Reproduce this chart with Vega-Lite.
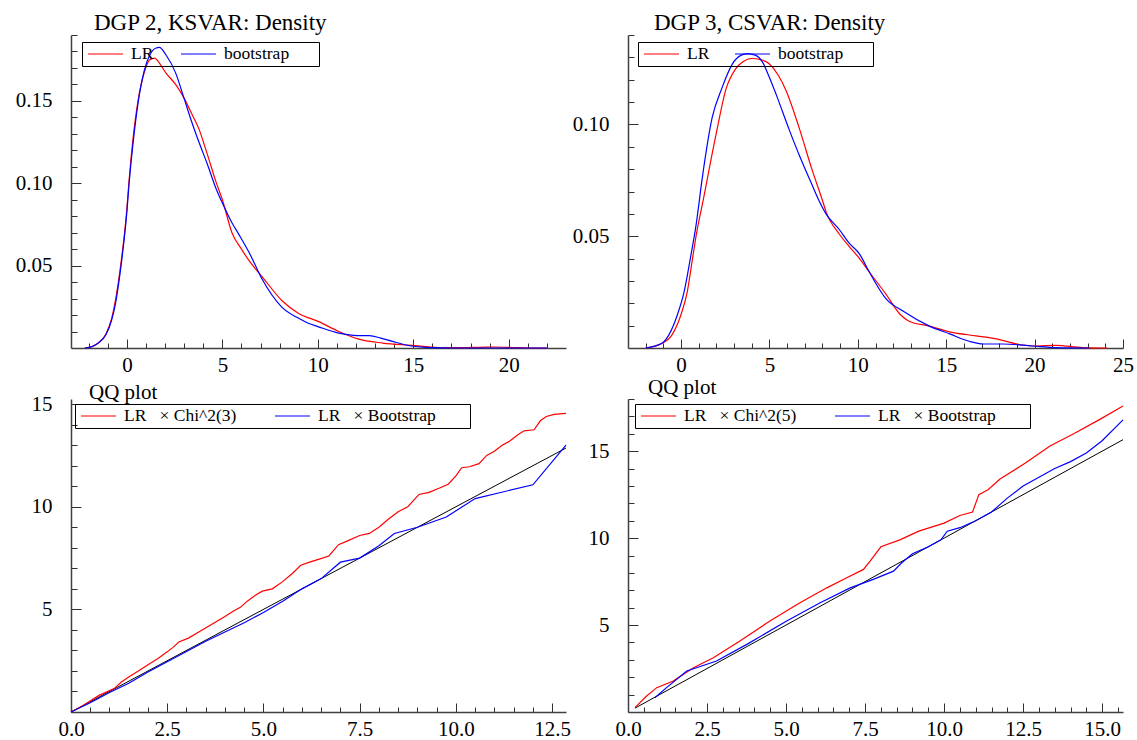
{
"$schema": "https://vega.github.io/schema/vega-lite/v6.json",
"padding": {"left": 15, "top": 12, "right": 5, "bottom": 2},
"bounds": "flush",
"columns": 2,
"spacing": {"row": 51, "column": 62},
"resolve": {"scale": {"x": "independent", "y": "independent", "color": "independent"}, "legend": {"color": "independent"}},
"config": {
  "view": {"stroke": null},
  "font": "Liberation Serif",
  "axis": {"grid": false, "domainColor": "#404040", "domainWidth": 1.5, "tickColor": "#303030", "tickWidth": 1, "labelFont": "Liberation Serif", "labelFontSize": 21, "labelColor": "black", "labelOverlap": false, "labelFlush": false, "title": null},
  "axisX": {"labelPadding": 15, "labelFont": "Liberation Serif"},
  "axisY": {"labelPadding": 29, "labelFont": "Liberation Serif"},
  "title": {"font": "Liberation Serif", "fontSize": 21, "fontWeight": "normal", "color": "black", "anchor": "start", "frame": "group", "offset": 4},
  "legend": {"orient": "none", "direction": "horizontal", "symbolType": "stroke", "symbolSize": 1225, "symbolStrokeWidth": 1.2, "clipHeight": 18, "labelFont": "Liberation Serif", "labelFontSize": 17.5, "labelColor": "black", "strokeColor": "black", "padding": 3, "symbolOffset": 2, "labelOffset": 7, "title": null}
},
"concat": [
{
  "width": 495, "height": 313,
  "title": {"text": "DGP 2, KSVAR: Density", "dx": 23, "dy": 15, "fontSize": 23},
  "data": {"values": [
    {"series":"LR","x":-2.2,"y":0},{"series":"LR","x":-1.8,"y":0.001},{"series":"LR","x":-1.5,"y":0.003},{"series":"LR","x":-1.1,"y":0.0085},{"series":"LR","x":-0.8,"y":0.018},{"series":"LR","x":-0.6,"y":0.029},{"series":"LR","x":-0.33,"y":0.05},{"series":"LR","x":0,"y":0.085},{"series":"LR","x":0.1,"y":0.1},{"series":"LR","x":0.3,"y":0.125},{"series":"LR","x":0.58,"y":0.15},{"series":"LR","x":0.9,"y":0.167},{"series":"LR","x":1.2,"y":0.175},{"series":"LR","x":1.45,"y":0.176},{"series":"LR","x":1.7,"y":0.173},{"series":"LR","x":2.04,"y":0.167},{"series":"LR","x":2.55,"y":0.16},{"series":"LR","x":2.98,"y":0.152},{"series":"LR","x":3.4,"y":0.142},{"series":"LR","x":3.77,"y":0.133},{"series":"LR","x":4.2,"y":0.118},{"series":"LR","x":4.66,"y":0.101},{"series":"LR","x":5.0,"y":0.09},{"series":"LR","x":5.5,"y":0.07},{"series":"LR","x":6.0,"y":0.06},{"series":"LR","x":6.4,"y":0.053},{"series":"LR","x":7.17,"y":0.042},{"series":"LR","x":8.1,"y":0.029},{"series":"LR","x":9.0,"y":0.021},{"series":"LR","x":10.05,"y":0.016},{"series":"LR","x":11.1,"y":0.01},{"series":"LR","x":12.1,"y":0.0055},{"series":"LR","x":13.4,"y":0.003},{"series":"LR","x":14.9,"y":0.0016},{"series":"LR","x":16.3,"y":0.0003},{"series":"LR","x":17.5,"y":0.0002},{"series":"LR","x":18.5,"y":0.0004},{"series":"LR","x":19.3,"y":0.0006},{"series":"LR","x":20.2,"y":0.0003},{"series":"LR","x":21.0,"y":0},{"series":"LR","x":22.0,"y":0},
    {"series":"bootstrap","x":-2.2,"y":0},{"series":"bootstrap","x":-1.8,"y":0.001},{"series":"bootstrap","x":-1.5,"y":0.003},{"series":"bootstrap","x":-1.1,"y":0.008},{"series":"bootstrap","x":-0.8,"y":0.017},{"series":"bootstrap","x":-0.6,"y":0.027},{"series":"bootstrap","x":-0.33,"y":0.048},{"series":"bootstrap","x":0,"y":0.083},{"series":"bootstrap","x":0.1,"y":0.098},{"series":"bootstrap","x":0.3,"y":0.122},{"series":"bootstrap","x":0.6,"y":0.15},{"series":"bootstrap","x":0.9,"y":0.168},{"series":"bootstrap","x":1.2,"y":0.178},{"series":"bootstrap","x":1.5,"y":0.182},{"series":"bootstrap","x":1.7,"y":0.1825},{"series":"bootstrap","x":2.04,"y":0.178},{"series":"bootstrap","x":2.55,"y":0.167},{"series":"bootstrap","x":2.98,"y":0.152},{"series":"bootstrap","x":3.4,"y":0.137},{"series":"bootstrap","x":3.77,"y":0.125},{"series":"bootstrap","x":4.2,"y":0.112},{"series":"bootstrap","x":4.66,"y":0.097},{"series":"bootstrap","x":5.0,"y":0.088},{"series":"bootstrap","x":5.5,"y":0.076},{"series":"bootstrap","x":5.86,"y":0.069},{"series":"bootstrap","x":6.4,"y":0.058},{"series":"bootstrap","x":7.07,"y":0.042},{"series":"bootstrap","x":8.1,"y":0.025},{"series":"bootstrap","x":9.0,"y":0.018},{"series":"bootstrap","x":9.5,"y":0.015},{"series":"bootstrap","x":10.0,"y":0.013},{"series":"bootstrap","x":11.1,"y":0.009},{"series":"bootstrap","x":12.1,"y":0.0075},{"series":"bootstrap","x":12.7,"y":0.0075},{"series":"bootstrap","x":13.3,"y":0.006},{"series":"bootstrap","x":13.9,"y":0.004},{"series":"bootstrap","x":14.9,"y":0.0012},{"series":"bootstrap","x":16.0,"y":0.0002},{"series":"bootstrap","x":17.0,"y":0},{"series":"bootstrap","x":22.0,"y":0}
  ]},
  "mark": {"type": "line", "interpolate": "monotone", "strokeWidth": 1.2},
  "encoding": {
    "x": {"field": "x", "type": "quantitative", "scale": {"domain": [-2.93, 23], "nice": false, "zero": false},
      "axis": {"labelFont": "Liberation Serif", "values": [-2,-1,0,1,2,3,4,5,6,7,8,9,10,11,12,13,14,15,16,17,18,19,20,21,22], "labelExpr": "datum.value % 5 == 0 ? datum.label : ''", "tickSize": {"condition": {"test": "datum.value % 5 == 0", "value": -9}, "value": -5}}},
    "y": {"field": "y", "type": "quantitative", "scale": {"domain": [0, 0.19], "nice": false},
      "axis": {"labelFont": "Liberation Serif", "values": [0.01,0.02,0.03,0.04,0.05,0.06,0.07,0.08,0.09,0.1,0.11,0.12,0.13,0.14,0.15,0.16,0.17,0.18,0.19], "labelExpr": "abs(datum.value*20 - round(datum.value*20)) < 0.001 ? format(datum.value, '.2f') : ''", "tickSize": {"condition": {"test": "abs(datum.value*20 - round(datum.value*20)) < 0.001", "value": -10}, "value": -6}}},
    "color": {"field": "series", "type": "nominal", "scale": {"domain": ["LR", "bootstrap"], "range": ["#ff0000", "#0000ff"]},
      "legend": {"legendX": 11, "legendY": 7, "columnPadding": 24, "labelExpr": "datum.label == 'bootstrap' ? datum.label + '\u00a0\u00a0\u00a0\u00a0\u00a0\u00a0\u200b' : datum.label",
        "encode": {"symbols": {"update": {"stroke": {"signal": "datum.value == 'LR' ? '#ff0000' : '#0000ff'"}, "strokeWidth": {"value": 1.2}}}}}}
  }
},
{
  "width": 495, "height": 313,
  "title": {"text": "DGP 3, CSVAR: Density", "dx": 26, "dy": 15, "fontSize": 23},
  "data": {"values": [
    {"series":"LR","x":-2.0,"y":0},{"series":"LR","x":-1.1,"y":0.002},{"series":"LR","x":-0.5,"y":0.006},{"series":"LR","x":0,"y":0.015},{"series":"LR","x":0.35,"y":0.025},{"series":"LR","x":0.63,"y":0.039},{"series":"LR","x":0.85,"y":0.05},{"series":"LR","x":1.25,"y":0.066},{"series":"LR","x":1.98,"y":0.0955},{"series":"LR","x":2.55,"y":0.116},{"series":"LR","x":3.1,"y":0.125},{"series":"LR","x":3.5,"y":0.128},{"series":"LR","x":4.0,"y":0.1295},{"series":"LR","x":4.5,"y":0.129},{"series":"LR","x":5.0,"y":0.127},{"series":"LR","x":5.5,"y":0.122},{"series":"LR","x":5.95,"y":0.115},{"series":"LR","x":6.7,"y":0.098},{"series":"LR","x":7.4,"y":0.08},{"series":"LR","x":8.0,"y":0.066},{"series":"LR","x":8.2,"y":0.061},{"series":"LR","x":8.95,"y":0.051},{"series":"LR","x":9.5,"y":0.0455},{"series":"LR","x":10.1,"y":0.04},{"series":"LR","x":10.65,"y":0.034},{"series":"LR","x":11.6,"y":0.024},{"series":"LR","x":12.4,"y":0.015},{"series":"LR","x":12.9,"y":0.012},{"series":"LR","x":14.05,"y":0.0098},{"series":"LR","x":15.2,"y":0.0072},{"series":"LR","x":16.7,"y":0.0054},{"series":"LR","x":17.9,"y":0.004},{"series":"LR","x":19.0,"y":0.0018},{"series":"LR","x":20.1,"y":0.0009},{"series":"LR","x":21.2,"y":0.0012},{"series":"LR","x":22.7,"y":0.0002},{"series":"LR","x":24.1,"y":0},
    {"series":"bootstrap","x":-2.0,"y":0},{"series":"bootstrap","x":-1.1,"y":0.002},{"series":"bootstrap","x":-0.68,"y":0.006},{"series":"bootstrap","x":-0.2,"y":0.015},{"series":"bootstrap","x":0.17,"y":0.025},{"series":"bootstrap","x":0.57,"y":0.042},{"series":"bootstrap","x":0.85,"y":0.055},{"series":"bootstrap","x":1.2,"y":0.076},{"series":"bootstrap","x":1.76,"y":0.103},{"series":"bootstrap","x":2.3,"y":0.116},{"series":"bootstrap","x":2.9,"y":0.127},{"series":"bootstrap","x":3.4,"y":0.131},{"series":"bootstrap","x":3.75,"y":0.1317},{"series":"bootstrap","x":4.2,"y":0.131},{"series":"bootstrap","x":4.6,"y":0.128},{"series":"bootstrap","x":5.0,"y":0.121},{"series":"bootstrap","x":5.4,"y":0.113},{"series":"bootstrap","x":6.1,"y":0.098},{"series":"bootstrap","x":6.7,"y":0.086},{"series":"bootstrap","x":7.3,"y":0.075},{"series":"bootstrap","x":7.8,"y":0.066},{"series":"bootstrap","x":8.2,"y":0.06},{"series":"bootstrap","x":8.95,"y":0.053},{"series":"bootstrap","x":9.5,"y":0.047},{"series":"bootstrap","x":10.1,"y":0.042},{"series":"bootstrap","x":10.65,"y":0.034},{"series":"bootstrap","x":11.6,"y":0.022},{"series":"bootstrap","x":12.55,"y":0.0165},{"series":"bootstrap","x":14.05,"y":0.0098},{"series":"bootstrap","x":15.2,"y":0.0063},{"series":"bootstrap","x":16.3,"y":0.003},{"series":"bootstrap","x":17.1,"y":0.0018},{"series":"bootstrap","x":18.2,"y":0.0018},{"series":"bootstrap","x":19.9,"y":0.0009},{"series":"bootstrap","x":21.2,"y":0.0002},{"series":"bootstrap","x":23.1,"y":0}
  ]},
  "mark": {"type": "line", "interpolate": "monotone", "strokeWidth": 1.2},
  "encoding": {
    "x": {"field": "x", "type": "quantitative", "scale": {"domain": [-3, 25], "nice": false, "zero": false},
      "axis": {"labelFont": "Liberation Serif", "values": [-2,-1,0,1,2,3,4,5,6,7,8,9,10,11,12,13,14,15,16,17,18,19,20,21,22,23,24,25], "labelExpr": "datum.value % 5 == 0 ? datum.label : ''", "tickSize": {"condition": {"test": "datum.value % 5 == 0", "value": -9}, "value": -5}}},
    "y": {"field": "y", "type": "quantitative", "scale": {"domain": [0, 0.14], "nice": false},
      "axis": {"labelFont": "Liberation Serif", "values": [0.01,0.02,0.03,0.04,0.05,0.06,0.07,0.08,0.09,0.1,0.11,0.12,0.13,0.14], "labelExpr": "abs(datum.value*20 - round(datum.value*20)) < 0.001 ? format(datum.value, '.2f') : ''", "tickSize": {"condition": {"test": "abs(datum.value*20 - round(datum.value*20)) < 0.001", "value": -10}, "value": -6}}},
    "color": {"field": "series", "type": "nominal", "scale": {"domain": ["LR", "bootstrap"], "range": ["#ff0000", "#0000ff"]},
      "legend": {"legendX": 10, "legendY": 7, "columnPadding": 22, "labelExpr": "datum.label == 'bootstrap' ? datum.label + '\u00a0\u00a0\u00a0\u00a0\u00a0\u00a0\u200b' : datum.label",
        "encode": {"symbols": {"update": {"stroke": {"signal": "datum.value == 'LR' ? '#ff0000' : '#0000ff'"}, "strokeWidth": {"value": 1.2}}}}}}
  }
},
{
  "width": 495, "height": 313,
  "title": {"text": "QQ plot", "dx": 18, "dy": 14},
  "encoding": {
    "x": {"field": "x", "type": "quantitative", "scale": {"domain": [0, 12.86], "nice": false},
      "axis": {"labelFont": "Liberation Serif", "values": [0,0.5,1,1.5,2,2.5,3,3.5,4,4.5,5,5.5,6,6.5,7,7.5,8,8.5,9,9.5,10,10.5,11,11.5,12,12.5], "labelExpr": "abs(datum.value/2.5 - round(datum.value/2.5)) < 0.001 ? format(datum.value, '.1f') : ''", "tickSize": {"condition": {"test": "abs(datum.value/2.5 - round(datum.value/2.5)) < 0.001", "value": -9}, "value": -5}}},
    "y": {"field": "y", "type": "quantitative", "scale": {"domain": [0, 15.25], "nice": false},
      "axis": {"labelFont": "Liberation Serif", "values": [1,2,3,4,5,6,7,8,9,10,11,12,13,14,15], "labelExpr": "datum.value % 5 == 0 ? datum.label : ''", "tickSize": {"condition": {"test": "datum.value % 5 == 0", "value": -10}, "value": -6}}}
  },
  "layer": [
    {
      "data": {"values": [{"x": 0, "y": 0}, {"x": 12.86, "y": 12.86}]},
      "mark": {"type": "line", "color": "black", "strokeWidth": 1}
    },
    {
      "data": {"values": [
        {"series":"LR × Chi^2(3)","x":0,"y":0},{"series":"LR × Chi^2(3)","x":0.3,"y":0.3},{"series":"LR × Chi^2(3)","x":0.73,"y":0.81},{"series":"LR × Chi^2(3)","x":1.12,"y":1.14},{"series":"LR × Chi^2(3)","x":1.3,"y":1.45},{"series":"LR × Chi^2(3)","x":1.5,"y":1.7},{"series":"LR × Chi^2(3)","x":1.75,"y":2.0},{"series":"LR × Chi^2(3)","x":1.98,"y":2.28},{"series":"LR × Chi^2(3)","x":2.25,"y":2.6},{"series":"LR × Chi^2(3)","x":2.5,"y":2.93},{"series":"LR × Chi^2(3)","x":2.65,"y":3.15},{"series":"LR × Chi^2(3)","x":2.8,"y":3.41},{"series":"LR × Chi^2(3)","x":3.05,"y":3.6},{"series":"LR × Chi^2(3)","x":3.32,"y":3.9},{"series":"LR × Chi^2(3)","x":3.55,"y":4.15},{"series":"LR × Chi^2(3)","x":3.76,"y":4.39},{"series":"LR × Chi^2(3)","x":4.0,"y":4.65},{"series":"LR × Chi^2(3)","x":4.19,"y":4.88},{"series":"LR × Chi^2(3)","x":4.4,"y":5.1},{"series":"LR × Chi^2(3)","x":4.58,"y":5.4},{"series":"LR × Chi^2(3)","x":4.8,"y":5.7},{"series":"LR × Chi^2(3)","x":4.97,"y":5.89},{"series":"LR × Chi^2(3)","x":5.23,"y":6.0},{"series":"LR × Chi^2(3)","x":5.49,"y":6.34},{"series":"LR × Chi^2(3)","x":5.75,"y":6.75},{"series":"LR × Chi^2(3)","x":5.97,"y":7.15},{"series":"LR × Chi^2(3)","x":6.2,"y":7.3},{"series":"LR × Chi^2(3)","x":6.45,"y":7.45},{"series":"LR × Chi^2(3)","x":6.7,"y":7.6},{"series":"LR × Chi^2(3)","x":6.95,"y":8.15},{"series":"LR × Chi^2(3)","x":7.2,"y":8.35},{"series":"LR × Chi^2(3)","x":7.5,"y":8.6},{"series":"LR × Chi^2(3)","x":7.75,"y":8.7},{"series":"LR × Chi^2(3)","x":8.0,"y":9.0},{"series":"LR × Chi^2(3)","x":8.25,"y":9.4},{"series":"LR × Chi^2(3)","x":8.5,"y":9.76},{"series":"LR × Chi^2(3)","x":8.75,"y":10.0},{"series":"LR × Chi^2(3)","x":9.04,"y":10.6},{"series":"LR × Chi^2(3)","x":9.3,"y":10.7},{"series":"LR × Chi^2(3)","x":9.56,"y":10.9},{"series":"LR × Chi^2(3)","x":9.8,"y":11.1},{"series":"LR × Chi^2(3)","x":10.0,"y":11.5},{"series":"LR × Chi^2(3)","x":10.15,"y":11.9},{"series":"LR × Chi^2(3)","x":10.35,"y":11.95},{"series":"LR × Chi^2(3)","x":10.6,"y":12.1},{"series":"LR × Chi^2(3)","x":10.8,"y":12.5},{"series":"LR × Chi^2(3)","x":11.0,"y":12.7},{"series":"LR × Chi^2(3)","x":11.2,"y":13.0},{"series":"LR × Chi^2(3)","x":11.4,"y":13.2},{"series":"LR × Chi^2(3)","x":11.6,"y":13.5},{"series":"LR × Chi^2(3)","x":11.77,"y":13.7},{"series":"LR × Chi^2(3)","x":12.03,"y":13.75},{"series":"LR × Chi^2(3)","x":12.2,"y":14.2},{"series":"LR × Chi^2(3)","x":12.35,"y":14.4},{"series":"LR × Chi^2(3)","x":12.55,"y":14.5},{"series":"LR × Chi^2(3)","x":12.86,"y":14.55},
        {"series":"LR × Bootstrap","x":0,"y":0},{"series":"LR × Bootstrap","x":0.5,"y":0.45},{"series":"LR × Bootstrap","x":1.0,"y":0.95},{"series":"LR × Bootstrap","x":1.5,"y":1.4},{"series":"LR × Bootstrap","x":2.0,"y":1.95},{"series":"LR × Bootstrap","x":2.5,"y":2.45},{"series":"LR × Bootstrap","x":3.0,"y":2.95},{"series":"LR × Bootstrap","x":3.5,"y":3.45},{"series":"LR × Bootstrap","x":4.0,"y":3.9},{"series":"LR × Bootstrap","x":4.5,"y":4.35},{"series":"LR × Bootstrap","x":5.0,"y":4.85},{"series":"LR × Bootstrap","x":5.5,"y":5.4},{"series":"LR × Bootstrap","x":6.0,"y":6.0},{"series":"LR × Bootstrap","x":6.5,"y":6.5},{"series":"LR × Bootstrap","x":7.0,"y":7.3},{"series":"LR × Bootstrap","x":7.5,"y":7.5},{"series":"LR × Bootstrap","x":8.0,"y":8.1},{"series":"LR × Bootstrap","x":8.4,"y":8.7},{"series":"LR × Bootstrap","x":9.0,"y":9.0},{"series":"LR × Bootstrap","x":9.75,"y":9.5},{"series":"LR × Bootstrap","x":10.5,"y":10.4},{"series":"LR × Bootstrap","x":12.0,"y":11.07},{"series":"LR × Bootstrap","x":12.86,"y":13.0}
      ]},
      "mark": {"type": "line", "strokeWidth": 1.2},
      "encoding": {
        "color": {"field": "series", "type": "nominal", "scale": {"domain": ["LR × Chi^2(3)", "LR × Bootstrap"], "range": ["#ff0000", "#0000ff"]},
          "legend": {"legendX": 4, "legendY": 5, "columnPadding": 35, "labelExpr": "replace(datum.label, ' × ', '\u00a0\u00a0\u00a0×\u00a0') + (indexof(datum.label, 'Bootstrap') >= 0 ? '\u00a0\u00a0\u00a0\u00a0\u00a0\u00a0\u00a0\u200b' : '')",
            "encode": {"symbols": {"update": {"stroke": {"signal": "indexof(datum.value, 'Bootstrap') >= 0 ? '#0000ff' : '#ff0000'"}, "strokeWidth": {"value": 1.2}}}}}}
      }
    }
  ]
},
{
  "width": 495, "height": 313,
  "title": {"text": "QQ plot", "dx": 20, "dy": 14},
  "encoding": {
    "x": {"field": "x", "type": "quantitative", "scale": {"domain": [0, 15.66], "nice": false},
      "axis": {"labelFont": "Liberation Serif", "values": [0,0.5,1,1.5,2,2.5,3,3.5,4,4.5,5,5.5,6,6.5,7,7.5,8,8.5,9,9.5,10,10.5,11,11.5,12,12.5,13,13.5,14,14.5,15,15.5], "labelExpr": "abs(datum.value/2.5 - round(datum.value/2.5)) < 0.001 ? format(datum.value, '.1f') : ''", "tickSize": {"condition": {"test": "abs(datum.value/2.5 - round(datum.value/2.5)) < 0.001", "value": -9}, "value": -5}}},
    "y": {"field": "y", "type": "quantitative", "scale": {"domain": [0, 18], "nice": false},
      "axis": {"labelFont": "Liberation Serif", "values": [1,2,3,4,5,6,7,8,9,10,11,12,13,14,15,16,17,18], "labelExpr": "datum.value % 5 == 0 ? datum.label : ''", "tickSize": {"condition": {"test": "datum.value % 5 == 0", "value": -10}, "value": -6}}}
  },
  "layer": [
    {
      "data": {"values": [{"x": 0.22, "y": 0.22}, {"x": 15.66, "y": 15.66}]},
      "mark": {"type": "line", "color": "black", "strokeWidth": 1}
    },
    {
      "data": {"values": [
        {"series":"LR × Chi^2(5)","x":0.22,"y":0.25},{"series":"LR × Chi^2(5)","x":0.59,"y":0.92},{"series":"LR × Chi^2(5)","x":0.91,"y":1.4},{"series":"LR × Chi^2(5)","x":1.43,"y":1.78},{"series":"LR × Chi^2(5)","x":2.07,"y":2.55},{"series":"LR × Chi^2(5)","x":2.7,"y":3.12},{"series":"LR × Chi^2(5)","x":3.54,"y":4.08},{"series":"LR × Chi^2(5)","x":4.49,"y":5.23},{"series":"LR × Chi^2(5)","x":5.44,"y":6.28},{"series":"LR × Chi^2(5)","x":6.29,"y":7.14},{"series":"LR × Chi^2(5)","x":6.92,"y":7.72},{"series":"LR × Chi^2(5)","x":7.45,"y":8.2},{"series":"LR × Chi^2(5)","x":7.66,"y":8.68},{"series":"LR × Chi^2(5)","x":8.0,"y":9.5},{"series":"LR × Chi^2(5)","x":8.6,"y":9.9},{"series":"LR × Chi^2(5)","x":9.2,"y":10.4},{"series":"LR × Chi^2(5)","x":10.0,"y":10.86},{"series":"LR × Chi^2(5)","x":10.5,"y":11.3},{"series":"LR × Chi^2(5)","x":10.9,"y":11.5},{"series":"LR × Chi^2(5)","x":11.1,"y":12.5},{"series":"LR × Chi^2(5)","x":11.4,"y":12.8},{"series":"LR × Chi^2(5)","x":11.77,"y":13.4},{"series":"LR × Chi^2(5)","x":12.56,"y":14.3},{"series":"LR × Chi^2(5)","x":13.35,"y":15.3},{"series":"LR × Chi^2(5)","x":14.1,"y":16.0},{"series":"LR × Chi^2(5)","x":14.9,"y":16.8},{"series":"LR × Chi^2(5)","x":15.66,"y":17.6},
        {"series":"LR × Bootstrap","x":0.85,"y":0.82},{"series":"LR × Bootstrap","x":1.22,"y":1.4},{"series":"LR × Bootstrap","x":1.86,"y":2.36},{"series":"LR × Bootstrap","x":2.8,"y":2.93},{"series":"LR × Bootstrap","x":3.76,"y":3.89},{"series":"LR × Bootstrap","x":5.02,"y":5.23},{"series":"LR × Bootstrap","x":6.08,"y":6.28},{"series":"LR × Bootstrap","x":7.03,"y":7.14},{"series":"LR × Bootstrap","x":7.76,"y":7.63},{"series":"LR × Bootstrap","x":8.4,"y":8.1},{"series":"LR × Bootstrap","x":8.66,"y":8.58},{"series":"LR × Bootstrap","x":9.0,"y":9.1},{"series":"LR × Bootstrap","x":9.5,"y":9.5},{"series":"LR × Bootstrap","x":9.9,"y":9.9},{"series":"LR × Bootstrap","x":10.1,"y":10.4},{"series":"LR × Bootstrap","x":10.5,"y":10.6},{"series":"LR × Bootstrap","x":11.0,"y":11.0},{"series":"LR × Bootstrap","x":11.5,"y":11.5},{"series":"LR × Bootstrap","x":12.0,"y":12.3},{"series":"LR × Bootstrap","x":12.5,"y":13.0},{"series":"LR × Bootstrap","x":13.0,"y":13.5},{"series":"LR × Bootstrap","x":13.5,"y":14.0},{"series":"LR × Bootstrap","x":14.0,"y":14.4},{"series":"LR × Bootstrap","x":14.5,"y":14.9},{"series":"LR × Bootstrap","x":15.0,"y":15.6},{"series":"LR × Bootstrap","x":15.66,"y":16.8}
      ]},
      "mark": {"type": "line", "strokeWidth": 1.2},
      "encoding": {
        "color": {"field": "series", "type": "nominal", "scale": {"domain": ["LR × Chi^2(5)", "LR × Bootstrap"], "range": ["#ff0000", "#0000ff"]},
          "legend": {"legendX": 7, "legendY": 5, "columnPadding": 35, "labelExpr": "replace(datum.label, ' × ', '\u00a0\u00a0\u00a0×\u00a0') + (indexof(datum.label, 'Bootstrap') >= 0 ? '\u00a0\u00a0\u00a0\u00a0\u00a0\u00a0\u00a0\u200b' : '')",
            "encode": {"symbols": {"update": {"stroke": {"signal": "indexof(datum.value, 'Bootstrap') >= 0 ? '#0000ff' : '#ff0000'"}, "strokeWidth": {"value": 1.2}}}}}}
      }
    }
  ]
}
]
}
